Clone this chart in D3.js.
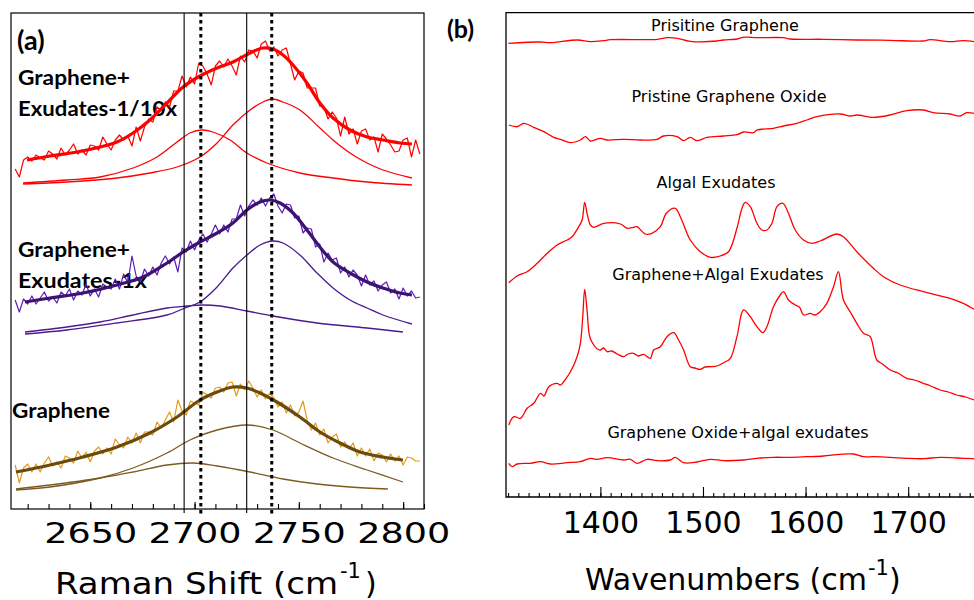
<!DOCTYPE html>
<html>
<head>
<meta charset="utf-8">
<script src="https://cdn.jsdelivr.net/npm/d3@7"></script>
<style>
  body { margin: 0; background: #fff; }
  svg { display: block; }
</style>
</head>
<body>
<svg id="fig" width="974" height="600"></svg>
<script>
// ---------- Panel (a): Raman 2D band with two-component fits ----------
const ramanTicks = [2650, 2700, 2750, 2800];
const ramanSolidLines = [2695, 2725];
const ramanDottedLines = [2703, 2737];

// sampling positions of the measured spectra (cm-1)
const ramanX = [2614,2616,2618,2620,2622,2624,2626,2628,2630,2632,2634,2636,2638,2640,2642,2644,2646,2648,2650,2652,2654,2656,2658,2660,2662,2664,2666,2668,2670,2672,2674,2676,2678,2680,2682,2684,2686,2688,2690,2692,2694,2696,2698,2700,2702,2704,2706,2708,2710,2712,2714,2716,2718,2720,2722,2724,2726,2728,2730,2732,2734,2736,2738,2740,2742,2744,2746,2748,2750,2752,2754,2756,2758,2760,2762,2764,2766,2768,2770,2772,2774,2776,2778,2780,2782,2784,2786,2788,2790,2792,2794,2796,2798,2800,2802,2804,2806,2808];

// measured intensities (a.u., stacked)
const rawExudates10 = [34.0,33.2,34.9,35.2,34.8,35.4,35.1,34.9,35.8,35.5,35.0,36.1,35.4,35.9,36.5,35.5,35.9,35.4,36.4,36.3,35.9,37.2,36.5,35.9,36.9,37.4,36.9,37.3,36.3,38.2,36.8,38.2,39.0,38.7,40.2,39.9,40.7,40.2,41.8,41.8,43.3,42.2,43.2,42.5,44.6,44.3,43.5,42.4,44.3,44.8,44.2,45.0,44.3,43.4,45.3,44.7,45.9,45.8,45.1,46.5,46.8,45.8,46.2,45.3,45.9,46.1,44.5,42.9,43.8,43.6,42.1,42.1,42.1,40.3,40.2,39.0,39.7,39.1,37.3,39.2,37.5,38.0,36.5,37.8,38.0,36.9,37.2,35.7,37.5,37.0,36.4,35.7,35.8,36.9,37.1,35.2,36.9,35.5];
const rawExudates1 = [20.9,19.7,21.0,20.5,21.3,20.5,21.1,21.7,20.8,21.2,20.6,21.7,21.3,22.0,20.9,21.8,21.4,22.5,21.3,22.0,21.2,22.5,22.2,22.0,23.0,22.0,23.5,22.6,25.3,23.3,22.7,24.0,23.3,24.2,23.4,24.6,25.3,24.5,25.2,23.7,26.1,25.7,26.8,25.9,26.9,27.5,26.7,27.5,28.4,27.5,28.4,27.7,29.0,29.0,30.4,29.3,30.3,30.9,30.4,31.1,30.3,31.1,31.5,30.3,29.6,30.5,30.4,29.1,29.3,27.6,28.1,28.0,26.2,26.5,24.7,25.6,24.9,25.1,23.6,24.2,23.2,23.9,23.4,22.3,23.4,22.4,22.8,21.8,22.4,22.7,21.6,22.0,21.0,22.1,21.3,21.8,21.1,21.2];
const rawGraphene = [4.4,2.6,4.1,4.5,3.7,4.5,3.7,4.6,5.2,4.3,4.7,4.1,5.3,5.1,4.6,5.8,5.1,5.7,4.7,5.8,6.2,5.5,6.1,5.5,7.0,6.4,6.1,7.2,6.6,7.6,6.6,7.7,7.7,7.4,8.7,8.1,8.9,9.7,8.7,10.9,9.8,9.4,10.8,10.6,10.4,11.7,11.4,11.1,12.1,12.2,11.7,12.6,12.7,11.3,12.5,11.9,12.8,12.1,11.2,11.9,11.0,11.6,11.1,10.2,10.7,9.6,10.4,9.3,9.7,10.8,8.9,7.9,8.6,7.4,8.0,6.6,7.2,7.5,6.2,6.7,6.0,6.6,5.3,6.1,5.3,6.0,4.8,5.6,5.4,4.7,5.5,4.8,5.3,4.4,5.2,5.1,4.8,4.8];

// fitted envelopes and components [cm-1, a.u.]
const fitExudates10 = [[2619.7,34.9],[2630.7,35.3],[2643.6,35.7],[2654.7,36.2],[2662.8,36.7],[2670.5,37.6],[2678.6,38.9],[2686.8,40.6],[2694.5,42.2],[2702.6,43.3],[2710.8,44.1],[2718.4,44.7],[2726.6,45.6],[2732.8,46.1],[2737.6,46.0],[2742.4,45.4],[2747.2,44.4],[2753.9,42.6],[2760.1,40.6],[2766.4,39.1],[2774.5,37.9],[2782.7,37.2],[2790.3,36.9],[2798.5,36.6],[2804.2,36.5]];
const compExudates10A = [[2617.8,32.6],[2638.8,32.9],[2654.7,33.2],[2670.5,34.1],[2682.0,35.2],[2691.6,36.7],[2697.8,37.6],[2703.6,37.9],[2708.8,37.7],[2717.0,36.9],[2725.1,35.6],[2734.7,34.6],[2750.5,33.6],[2766.4,33.1],[2782.7,32.7],[2804.2,32.4]];
const compExudates10B = [[2617.8,32.5],[2638.8,32.7],[2662.8,33.1],[2678.6,33.6],[2691.6,34.2],[2702.6,35.2],[2710.8,36.6],[2718.4,38.4],[2726.6,39.9],[2732.8,40.7],[2737.1,41.0],[2742.4,40.7],[2750.5,39.9],[2760.1,38.1],[2766.4,36.9],[2774.5,35.6],[2782.7,34.6],[2790.3,33.9],[2804.2,33.1]];

const fitExudates1 = [[2618.7,20.7],[2630.7,21.1],[2646.5,21.6],[2662.8,22.4],[2675.3,23.2],[2686.8,24.6],[2694.5,25.7],[2702.6,26.7],[2710.8,27.6],[2718.4,28.6],[2725.1,29.9],[2731.4,30.7],[2736.2,30.9],[2741.0,30.6],[2747.2,29.6],[2753.9,27.9],[2760.1,26.2],[2766.4,24.7],[2774.5,23.6],[2782.7,22.7],[2790.3,22.1],[2798.5,21.6],[2804.2,21.4]];
const compExudates1A = [[2618.7,17.7],[2638.8,18.2],[2654.7,18.7],[2670.5,19.4],[2686.8,20.1],[2696.4,20.3],[2703.6,20.4],[2712.2,20.3],[2725.1,19.8],[2737.6,19.3],[2758.7,18.6],[2782.7,18.1],[2799.9,17.7]];
const compExudates1B = [[2618.7,17.5],[2638.8,17.9],[2662.8,18.6],[2686.8,19.4],[2695.4,20.1],[2702.6,20.7],[2710.8,22.2],[2718.4,24.1],[2725.1,25.4],[2731.4,26.4],[2737.6,26.8],[2742.4,26.6],[2750.5,25.4],[2758.7,23.6],[2766.4,22.1],[2774.5,20.9],[2782.7,20.1],[2790.3,19.4],[2804.2,18.5]];

const fitGraphene = [[2614.4,3.7],[2630.7,4.4],[2646.5,5.2],[2662.8,6.2],[2678.6,7.6],[2691.6,9.2],[2702.6,10.9],[2710.8,11.7],[2718.4,12.2],[2725.1,12.1],[2731.4,11.6],[2739.5,10.7],[2750.5,9.2],[2760.1,7.7],[2769.7,6.6],[2779.3,5.7],[2790.3,5.2],[2799.9,4.9]];
const compGrapheneA = [[2614.4,2.0],[2630.7,2.4],[2654.7,3.1],[2670.5,3.7],[2686.8,4.4],[2699.3,4.6],[2710.8,4.3],[2726.6,3.7],[2742.4,3.0],[2758.7,2.5],[2774.5,2.2],[2792.7,2.0]];
const compGrapheneB = [[2614.4,1.9],[2630.7,2.2],[2654.7,3.1],[2670.5,4.1],[2686.8,5.6],[2697.8,6.9],[2710.8,7.9],[2725.6,8.4],[2737.6,7.9],[2750.5,6.6],[2766.4,5.1],[2782.7,3.9],[2799.9,2.7]];

// ---------- Panel (b): FTIR spectra ----------
const irTicks = [1400, 1500, 1600, 1700];
const irPristineGraphene = [[1310.4,45.37],[1341.6,45.5],[1351.3,45.43],[1377.6,45.7],[1390.3,45.53],[1402.9,45.63],[1409.7,45.73],[1455.5,45.77],[1465.2,45.93],[1475.0,45.87],[1487.6,45.57],[1513.9,45.6],[1519.8,45.7],[1533.4,45.8],[1539.2,45.97],[1552.9,45.93],[1578.2,45.93],[1585.0,45.8],[1617.1,45.77],[1650.2,45.7],[1682.4,45.67],[1714.5,45.6],[1721.3,45.73],[1740.8,45.53],[1753.5,45.63],[1764.2,45.53]];
const irPristineGO = [[1310.7,37.2],[1318.9,37.03],[1325.3,37.37],[1335.1,36.97],[1344.8,36.53],[1354.5,35.97],[1361.1,35.77],[1370.8,35.43],[1380.5,35.7],[1385.4,36.03],[1390.3,35.6],[1400.0,35.87],[1406.5,35.7],[1422.7,35.77],[1438.9,35.7],[1455.2,35.77],[1461.6,36.1],[1474.7,36.03],[1481.1,35.63],[1487.6,35.97],[1494.2,35.63],[1503.9,35.97],[1520.1,36.1],[1533.1,36.23],[1539.5,36.5],[1549.3,36.43],[1552.6,36.7],[1568.7,36.87],[1578.5,37.1],[1591.5,37.37],[1601.2,37.7],[1611.0,38.03],[1633.7,38.3],[1643.4,38.1],[1649.9,38.2],[1666.1,37.97],[1682.4,38.2],[1698.6,38.63],[1714.8,38.7],[1724.5,38.43],[1740.8,38.3],[1750.5,38.1],[1757.1,38.43],[1764.2,38.37]];
const irAlgalExudates = [[1310.7,21.43],[1318.9,22.1],[1328.6,22.53],[1338.4,23.37],[1348.1,24.37],[1357.8,25.2],[1367.6,25.7],[1372.4,26.03],[1378.9,27.03],[1382.2,27.7],[1384.7,29.47],[1387.0,28.37],[1390.3,27.2],[1393.5,26.97],[1403.2,27.37],[1419.5,27.3],[1426.0,26.87],[1432.4,26.97],[1435.7,27.03],[1443.8,26.3],[1450.3,26.37],[1458.4,27.03],[1464.3,28.37],[1473.0,28.87],[1477.9,28.03],[1487.6,25.7],[1497.4,24.53],[1507.1,23.97],[1516.8,24.1],[1524.9,24.53],[1533.1,26.87],[1538.0,28.87],[1541.2,29.47],[1546.1,29.03],[1552.6,27.37],[1557.4,26.7],[1562.3,26.7],[1567.2,27.37],[1572.1,29.03],[1577.9,29.37],[1583.3,28.37],[1589.9,26.7],[1598.0,25.7],[1606.1,25.37],[1614.2,25.6],[1630.5,26.3],[1636.9,26.03],[1649.9,24.53],[1666.1,22.87],[1675.9,22.03],[1692.1,21.2],[1714.8,20.53],[1740.8,19.87],[1753.7,19.37],[1764.2,18.77]];
const irGrapheneAlgal = [[1310.7,7.2],[1315.6,8.03],[1322.1,7.87],[1328.6,8.87],[1335.1,9.37],[1341.6,10.37],[1345.0,10.1],[1349.7,11.03],[1357.8,11.37],[1361.0,11.2],[1365.9,11.77],[1370.8,12.53],[1377.3,14.03],[1380.5,15.37],[1382.8,18.03],[1384.7,20.77],[1387.0,18.7],[1389.6,16.03],[1393.5,15.2],[1397.0,14.8],[1400.0,14.7],[1403.0,14.9],[1406.5,14.53],[1411.0,14.6],[1416.3,14.3],[1422.7,14.03],[1427.0,14.3],[1432.4,14.37],[1437.0,14.1],[1442.2,14.27],[1448.7,13.87],[1451.9,14.7],[1458.4,15.03],[1464.9,16.03],[1471.4,16.43],[1476.2,15.7],[1481.1,14.7],[1487.6,13.03],[1492.0,12.9],[1497.4,12.77],[1502.0,13.0],[1507.1,13.03],[1513.6,13.1],[1520.1,13.43],[1526.6,13.87],[1533.1,16.03],[1539.5,18.7],[1546.1,18.03],[1552.6,17.03],[1558.4,16.43],[1562.3,17.03],[1568.7,19.03],[1575.3,20.2],[1578.5,20.53],[1583.3,19.7],[1589.9,19.2],[1594.0,19.0],[1598.0,18.2],[1604.5,18.37],[1609.0,18.2],[1614.2,18.53],[1620.7,19.37],[1627.2,21.03],[1632.0,22.53],[1636.9,19.7],[1643.4,18.53],[1649.9,17.37],[1656.4,16.37],[1662.9,16.03],[1669.4,13.7],[1675.0,13.3],[1682.4,12.7],[1690.0,12.4],[1698.6,11.87],[1706.0,11.7],[1714.8,11.37],[1722.0,11.1],[1731.1,10.7],[1739.0,10.5],[1747.3,10.2],[1756.0,10.0],[1764.2,9.7]];
const irGOAlgal = [[1310.7,3.37],[1314.0,3.03],[1318.9,3.3],[1331.8,3.37],[1341.6,3.53],[1351.3,3.3],[1367.6,3.43],[1380.5,3.53],[1390.3,3.87],[1396.8,3.77],[1406.5,3.93],[1422.7,3.7],[1429.2,3.77],[1435.7,3.37],[1445.5,3.77],[1455.2,3.63],[1468.2,3.7],[1473.0,3.97],[1481.1,3.43],[1494.2,3.5],[1507.1,3.77],[1520.1,3.63],[1539.5,3.7],[1552.6,3.87],[1568.7,3.97],[1585.0,3.97],[1601.2,4.03],[1617.4,4.1],[1633.7,4.27],[1646.6,4.3],[1656.4,4.03],[1666.1,4.03],[1682.4,3.97],[1698.6,3.87],[1714.8,3.83],[1731.1,3.97],[1747.3,3.9],[1764.2,3.83]];

// ---------- drawing ----------
const svg = d3.select('#fig');

const xa = d3.scaleLinear().domain([2612, 2810]).range([11, 424]);
const ya = d3.scaleLinear().domain([0, 49.6]).range([509, 13]);
const xb = d3.scaleLinear().domain([1308, 1770]).range([506, 980]);
const yb = d3.scaleLinear().domain([0, 48.4]).range([497, 13]);

function trace(g, data, x, y, color, width, curve) {
  const line = d3.line().x(d => x(d[0])).y(d => y(d[1])).curve(curve || d3.curveLinear);
  g.append('path').datum(data)
    .attr('d', line).attr('fill', 'none')
    .attr('stroke', color).attr('stroke-width', width)
    .attr('stroke-linejoin', 'round');
}
const zip = (xs, ys) => xs.map((v, i) => [v, ys[i]]);
const smooth = d3.curveCatmullRom.alpha(0.5);

// ---- panel (a)
const ga = svg.append('g');
const boldFont = 'Lato, "Open Sans", sans-serif';
function tag(text, x, y, len) {
  ga.append('text').attr('x', x).attr('y', y).text(text)
    .attr('font-family', boldFont).attr('font-weight', 700).attr('font-size', 21)
    .attr('textLength', len).attr('lengthAdjust', 'spacingAndGlyphs');
}
ga.append('text').attr('x', 17).attr('y', 50).text('(a)')
  .attr('font-family', boldFont).attr('font-weight', 700).attr('font-size', 27);
tag('Graphene+', 18, 85, 112);
tag('Exudates-1/10x', 18, 116, 159);
tag('Graphene+', 18, 257, 112);
tag('Exudates-1x', 18, 288, 129);
tag('Graphene', 12, 418, 98);

const red = '#ff0000';
trace(ga, compExudates10A, xa, ya, red, 1.3, smooth);
trace(ga, compExudates10B, xa, ya, red, 1.3, smooth);
trace(ga, zip(ramanX, rawExudates10), xa, ya, red, 1.2);
trace(ga, fitExudates10, xa, ya, red, 3.2, smooth);

trace(ga, compExudates1A, xa, ya, '#4a1a8e', 1.3, smooth);
trace(ga, compExudates1B, xa, ya, '#4a1a8e', 1.3, smooth);
trace(ga, zip(ramanX, rawExudates1), xa, ya, '#5c1cb8', 1.2);
trace(ga, fitExudates1, xa, ya, '#3a1470', 3.2, smooth);

trace(ga, compGrapheneA, xa, ya, '#7d5a22', 1.3, smooth);
trace(ga, compGrapheneB, xa, ya, '#7d5a22', 1.3, smooth);
trace(ga, zip(ramanX, rawGraphene), xa, ya, '#e39c1c', 1.2);
trace(ga, fitGraphene, xa, ya, '#6b4a0c', 3.2, smooth);

ga.selectAll('line.solid').data(ramanSolidLines).join('line')
  .attr('x1', d => xa(d)).attr('x2', d => xa(d))
  .attr('y1', ya.range()[1]).attr('y2', ya.range()[0] + 4)
  .attr('stroke', '#000').attr('stroke-width', 1.1);
ga.selectAll('line.dot').data(ramanDottedLines).join('line')
  .attr('x1', d => xa(d)).attr('x2', d => xa(d))
  .attr('y1', ya.range()[1]).attr('y2', ya.range()[0] + 5)
  .attr('stroke', '#000').attr('stroke-width', 3)
  .attr('stroke-dasharray', '3.5,3.5');

// frame and ticks
ga.append('rect').attr('x', 11).attr('y', 13).attr('width', 413).attr('height', 496)
  .attr('fill', 'none').attr('stroke', '#000').attr('stroke-width', 1.2);
const axA = ga.append('g').attr('transform', 'translate(0,509)');
axA.call(d3.axisBottom(xa).tickValues(d3.range(2620, 2811, 10)).tickSize(-5).tickFormat(''));
const axA2 = ga.append('g').attr('transform', 'translate(0,509)');
axA2.call(d3.axisBottom(xa).tickValues(ramanTicks).tickSize(-7).tickFormat(d3.format('d')));
[axA, axA2].forEach(a => { a.select('.domain').remove(); a.selectAll('line').attr('stroke-width', 1.1); });
axA2.selectAll('text')
  .attr('y', 34).attr('dy', 0)
  .attr('font-family', '"DejaVu Sans", Verdana, sans-serif').attr('font-size', 28)
  .attr('fill', '#000')
  .attr('textLength', 93).attr('lengthAdjust', 'spacingAndGlyphs');

const titleFont = '"DejaVu Sans", Verdana, sans-serif';
ga.append('text').attr('x', 55).attr('y', 594).text('Raman Shift (cm')
  .attr('font-family', titleFont).attr('font-size', 30)
  .attr('textLength', 283).attr('lengthAdjust', 'spacingAndGlyphs');
ga.append('text').attr('x', 340).attr('y', 578).text('-1')
  .attr('font-family', titleFont).attr('font-size', 21);
ga.append('text').attr('x', 365).attr('y', 594).text(')')
  .attr('font-family', titleFont).attr('font-size', 30);

// ---- panel (b)
const gb = svg.append('g');
gb.append('text').attr('x', 447).attr('y', 38).text('(b)')
  .attr('font-family', boldFont).attr('font-weight', 700).attr('font-size', 25);

[irPristineGraphene, irPristineGO, irAlgalExudates, irGrapheneAlgal, irGOAlgal]
  .forEach(s => trace(gb, s, xb, yb, red, 1.3, smooth));

const labelFont = '"DejaVu Sans", Verdana, sans-serif';
const irLabels = [
  ['Prisitine Graphene', 725, 31],
  ['Pristine Graphene Oxide', 729, 102],
  ['Algal Exudates', 716, 188],
  ['Graphene+Algal Exudates', 718, 280],
  ['Graphene Oxide+algal exudates', 738, 438]
];
gb.selectAll('text.lbl').data(irLabels).join('text')
  .attr('class', 'lbl')
  .attr('x', d => d[1]).attr('y', d => d[2]).text(d => d[0])
  .attr('text-anchor', 'middle')
  .attr('font-family', labelFont).attr('font-size', 16);

gb.append('path')
  .attr('d', 'M980,12.7H506V497H980')
  .attr('fill', 'none').attr('stroke', '#000').attr('stroke-width', 1.3);
const axB = gb.append('g').attr('transform', 'translate(0,497)');
axB.call(d3.axisBottom(xb).tickValues(d3.range(1310, 1771, 10)).tickSize(-4).tickFormat(''));
const axB2 = gb.append('g').attr('transform', 'translate(0,497)');
axB2.call(d3.axisBottom(xb).tickValues(irTicks).tickSize(-10).tickFormat(d3.format('d')));
[axB, axB2].forEach(a => { a.select('.domain').remove(); a.selectAll('line').attr('stroke-width', 1.1); });
axB2.selectAll('text')
  .attr('y', 36).attr('dy', 0)
  .attr('font-family', titleFont).attr('font-size', 30).attr('fill', '#000');

gb.append('text').attr('x', 585).attr('y', 590).text('Wavenumbers (cm')
  .attr('font-family', titleFont).attr('font-size', 30);
gb.append('text').attr('x', 868).attr('y', 575).text('-1')
  .attr('font-family', titleFont).attr('font-size', 21);
gb.append('text').attr('x', 889).attr('y', 590).text(')')
  .attr('font-family', titleFont).attr('font-size', 30);
</script>
</body>
</html>
